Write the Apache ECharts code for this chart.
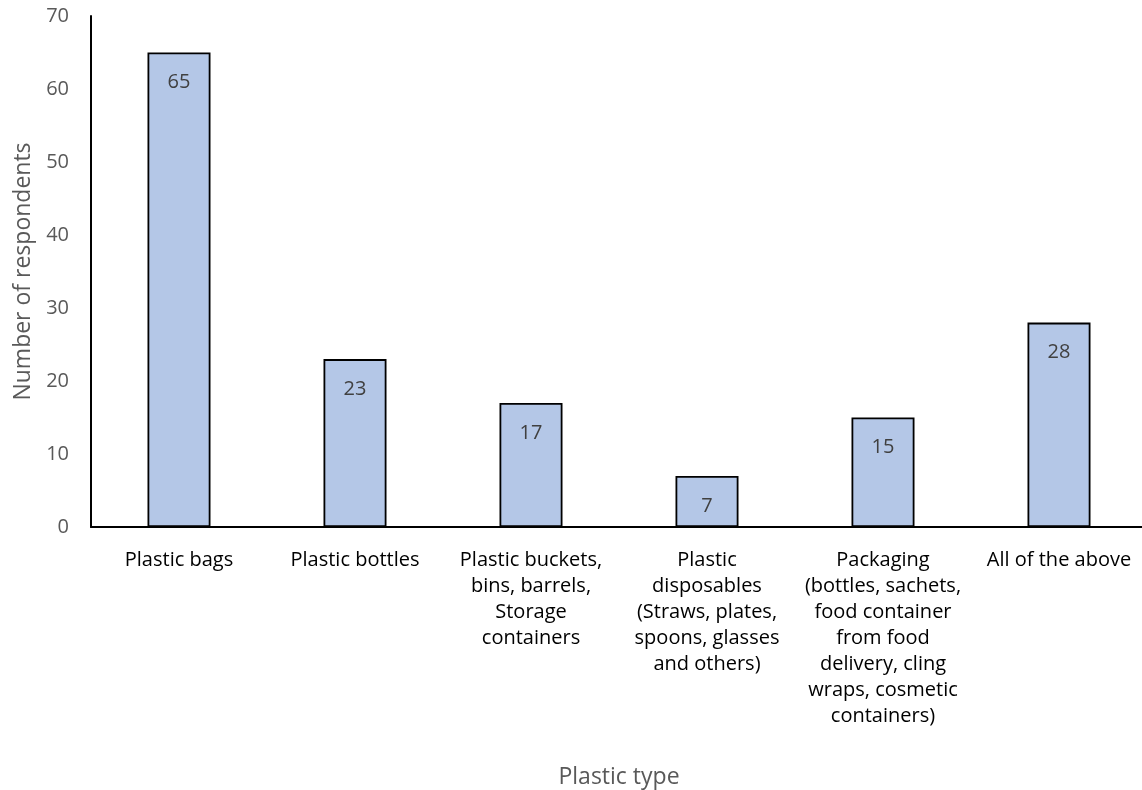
<!DOCTYPE html>
<html>
<head>
<meta charset="utf-8">
<script src="https://cdn.jsdelivr.net/npm/echarts@6/dist/echarts.min.js"></script>
<style>
html,body{margin:0;padding:0;background:#fff;overflow:hidden}
#c{width:1142px;height:790px}
</style>
</head>
<body>
<div id="c"></div>
<script>
const categories = [
  "Plastic bags",
  "Plastic bottles",
  "Plastic buckets,\nbins, barrels,\nStorage\ncontainers",
  "Plastic\ndisposables\n(Straws, plates,\nspoons, glasses\nand others)",
  "Packaging\n(bottles, sachets,\nfood container\nfrom food\ndelivery, cling\nwraps, cosmetic\ncontainers)",
  "All of the above"
];
const values = [65, 23, 17, 7, 15, 28];
const yAxisName = "Number of respondents";
const xAxisName = "Plastic type";

const chart = echarts.init(document.getElementById('c'), null, {renderer: 'canvas'});
const font = "'Open Sans', 'Liberation Sans', sans-serif";
chart.setOption({
  animation: false,
  textStyle: {fontFamily: font},
  grid: {left: 91, top: 16, right: -5, bottom: 263, containLabel: false, outerBoundsMode: 'none'},
  xAxis: {
    type: 'category',
    data: categories,
    name: xAxisName,
    nameLocation: 'middle',
    nameGap: 239,
    nameTextStyle: {color: '#595959', fontSize: 23, fontFamily: font},
    axisLine: {lineStyle: {color: '#000', width: 2}},
    axisTick: {show: false},
    axisLabel: {color: '#000', fontSize: 20, lineHeight: 26, margin: 20, interval: 0, fontFamily: font}
  },
  yAxis: {
    type: 'value',
    min: 0, max: 70, interval: 10,
    name: yAxisName,
    nameLocation: 'middle',
    nameGap: 56,
    nameTextStyle: {color: '#595959', fontSize: 23, fontFamily: font},
    axisLine: {show: true, lineStyle: {color: '#000', width: 2}},
    axisTick: {show: false},
    splitLine: {show: false},
    axisLabel: {color: '#595959', fontSize: 20, margin: 22, fontFamily: font}
  },
  series: [{
    type: 'bar',
    data: values,
    barWidth: 63,
    itemStyle: {color: '#b4c7e7', borderColor: '#000', borderWidth: 1.8},
    label: {show: true, position: 'insideTop', distance: 20, color: '#404040', fontSize: 20, fontFamily: font}
  }]
});
</script>
</body>
</html>
